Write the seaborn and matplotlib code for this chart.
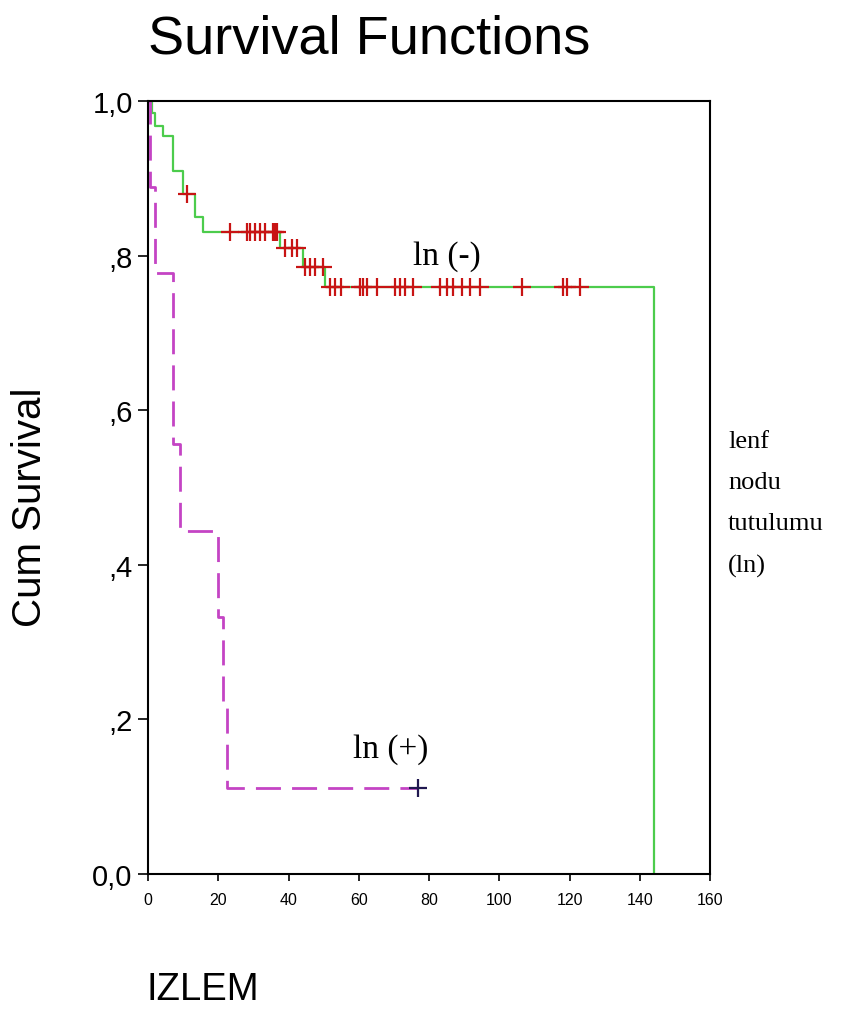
import numpy as np
import pandas as pd
import seaborn as sns
import matplotlib.pyplot as plt

# ln (-) group: event times and survival level after each step
neg_time = [0, 1.0, 2.0, 4.3, 7.1, 10.0, 13.4, 15.7, 37.6, 44.0, 50.4, 144.0]
neg_surv = [1.0, 0.985, 0.968, 0.955, 0.91, 0.88, 0.85, 0.83, 0.81, 0.785, 0.76, 0.0]
# censored cases of ln (-)
neg_cens_time = [11.0, 23.4, 28.2, 29.1, 30.5, 31.9, 33.3, 35.6, 36.2, 36.8,
                 39.0, 41.0, 42.5, 44.7, 46.2, 47.6, 49.9,
                 51.9, 53.3, 55.0, 60.4, 61.3, 62.4, 65.2, 70.4, 71.8, 73.2, 75.5,
                 83.2, 85.2, 86.9, 89.5, 91.7, 94.6, 106.5, 118.2, 119.4, 123.0]
neg_cens_surv = [0.88] + [0.83] * 9 + [0.81] * 3 + [0.785] * 4 + [0.76] * 21

# ln (+) group
pos_time = [0, 0.5, 2.0, 7.0, 9.0, 20.0, 21.3, 22.5, 77.0]
pos_surv = [1.0, 0.889, 0.778, 0.556, 0.444, 0.333, 0.222, 0.111, 0.111]
pos_cens_time = [77.0]
pos_cens_surv = [0.111]

neg = pd.DataFrame({'t': neg_time, 's': neg_surv})
pos = pd.DataFrame({'t': pos_time, 's': pos_surv})
negc = pd.DataFrame({'t': neg_cens_time, 's': neg_cens_surv})
posc = pd.DataFrame({'t': pos_cens_time, 's': pos_cens_surv})

sns.set_style("white")
plt.rcParams['font.family'] = ['Liberation Sans', 'DejaVu Sans']
plt.rcParams['text.color'] = 'black'
plt.rcParams['xtick.color'] = 'black'
plt.rcParams['ytick.color'] = 'black'

fig = plt.figure(figsize=(8.6, 10.12), dpi=100)
ax = fig.add_axes([148 / 860, 1 - 875 / 1012, (710 - 148) / 860, (875 - 102) / 1012])

sns.lineplot(x='t', y='s', data=neg, ax=ax, color='#4ccc4c', linewidth=1.6,
             drawstyle='steps-post', estimator=None, sort=False)
sns.lineplot(x='t', y='s', data=pos, ax=ax, color='#c444c4', linewidth=2.0,
             drawstyle='steps-post', estimator=None, sort=False)
ax.lines[-1].set_dashes([9, 4])
sns.scatterplot(x='t', y='s', data=negc, ax=ax, marker='+', s=160,
                color='#c81414', linewidth=1.6, zorder=5)
sns.scatterplot(x='t', y='s', data=posc, ax=ax, marker='+', s=160,
                color='#201850', linewidth=1.6, zorder=5)

ax.set_xlim(0, 160)
ax.set_ylim(0, 1.0)
ax.set_xticks(np.arange(0, 161, 20))
ax.set_yticks([0, 0.2, 0.4, 0.6, 0.8, 1.0])
ax.set_yticklabels(['0,0', ',2', ',4', ',6', ',8', '1,0'], fontsize=21)
ax.tick_params(axis='x', labelsize=11.5, length=5, width=1.2, pad=8, direction='out', bottom=True)
ax.tick_params(axis='y', length=7, width=1.2, pad=4, direction='out', left=True)
for sp in ax.spines.values():
    sp.set_color('black')
    sp.set_linewidth(1.5)
ax.set_xlabel('')
ax.set_ylabel('')

ax.text(85, 0.80, 'ln (-)', family='Liberation Serif', fontsize=24,
        ha='center', va='center')
ax.text(69, 0.162, 'ln (+)', family='Liberation Serif', fontsize=24,
        ha='center', va='center')

fig.text(148 / 860, 1 - 39 / 1012, 'Survival Functions', fontsize=39,
         ha='left', va='center')
fig.text(30 / 860, 1 - 507 / 1012, 'Cum Survival', fontsize=29,
         rotation=90, ha='center', va='center')
fig.text(147 / 860, 1 - 990 / 1012, 'IZLEM', fontsize=27.5, ha='left', va='center')
fig.text(728 / 860, 1 - 431 / 1012, 'lenf\nnodu\ntutulumu\n(ln)',
         family='Liberation Serif', fontsize=19, ha='left', va='top',
         linespacing=2.12)

fig.savefig('out.png', dpi=100)
